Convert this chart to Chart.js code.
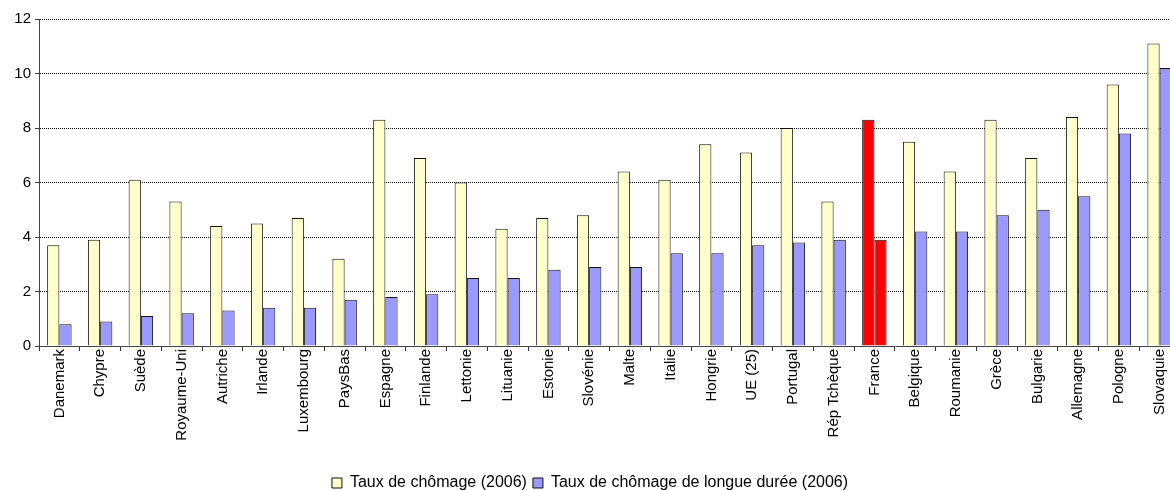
<!DOCTYPE html>
<html>
<head>
<meta charset="utf-8">
<script src="https://cdn.jsdelivr.net/npm/chart.js@4"></script>
<style>
html,body{margin:0;padding:0;background:#fff;overflow:hidden;width:1170px;height:490px;}
#wrap{position:absolute;left:0;top:0;width:1180px;height:501px;}
</style>
</head>
<body>
<div id="wrap"><canvas id="c" width="1180" height="501"></canvas></div>
<script>
const categories = ["Danemark","Chypre","Suède","Royaume-Uni","Autriche","Irlande","Luxembourg","PaysBas","Espagne","Finlande","Lettonie","Lituanie","Estonie","Slovénie","Malte","Italie","Hongrie","UE (25)","Portugal","Rép Tchèque","France","Belgique","Roumanie","Grèce","Bulgarie","Allemagne","Pologne","Slovaquie"];
const unemployment = [3.7,3.9,6.1,5.3,4.4,4.5,4.7,3.2,8.3,6.9,6.0,4.3,4.7,4.8,6.4,6.1,7.4,7.1,8.0,5.3,8.3,7.5,6.4,8.3,6.9,8.4,9.6,11.1];
const longTerm = [0.8,0.9,1.1,1.2,1.3,1.4,1.4,1.7,1.8,1.9,2.5,2.5,2.8,2.9,2.9,3.4,3.4,3.7,3.8,3.9,3.9,4.2,4.2,4.8,5.0,5.5,7.8,10.2];
const seriesNames = ["Taux de chômage (2006)","Taux de chômage de longue durée (2006)"];
const highlight = "France";

const FONT = "'Liberation Sans', Arial, sans-serif";
const yellow = "#FFFFCC", blue = "#9999FF", red = "#FF0000";
const colorsFor = base => categories.map(c => c === highlight ? red : base);

new Chart(document.getElementById('c'), {
  type: 'bar',
  data: {
    labels: categories,
    datasets: [
      {label: seriesNames[0], data: unemployment, backgroundColor: colorsFor(yellow), borderColor: '#111', borderWidth: 1, borderSkipped: 'bottom'},
      {label: seriesNames[1], data: longTerm, backgroundColor: colorsFor(blue), borderColor: '#111', borderWidth: 1, borderSkipped: 'bottom'}
    ]
  },
  options: {
    responsive: false,
    animation: false,
    devicePixelRatio: 1,
    layout: {padding: {top: 19, right: 0, left: 0, bottom: 0}},
    datasets: {bar: {categoryPercentage: 0.6, barPercentage: 1.0}},
    plugins: {
      tooltip: {enabled: false},
      legend: {
        position: 'bottom',
        labels: {font: {family: FONT, size: 16}, color: '#000', boxWidth: 10, boxHeight: 10, padding: 6}
      }
    },
    scales: {
      x: {
        grid: {drawOnChartArea: false, drawTicks: true, tickLength: 5, color: '#333', offset: true},
        border: {display: true, color: '#444', width: 1},
        ticks: {minRotation: 90, maxRotation: 90, autoSkip: false, color: '#000', font: {family: FONT, size: 15}, padding: -2},
        afterFit: s => { s.height = 123; }
      },
      y: {
        min: 0, max: 12,
        ticks: {stepSize: 2, color: '#000', font: {family: FONT, size: 15}, padding: 4},
        grid: {color: '#000', lineWidth: 1, tickLength: 4, tickColor: '#444', tickBorderDash: []},
        border: {display: true, color: '#444', width: 1, dash: [1, 1]},
        afterFit: s => { s.width = 39; }
      }
    }
  }
});
</script>
</body>
</html>
